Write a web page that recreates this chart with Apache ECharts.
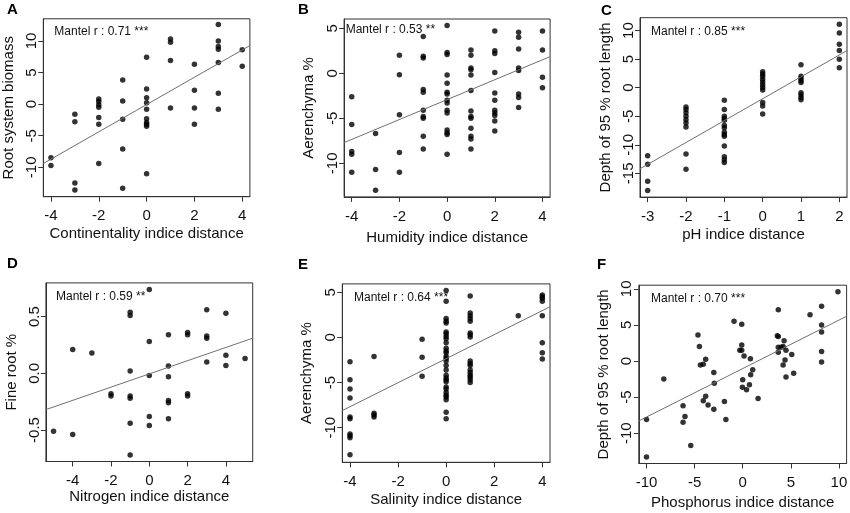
<!DOCTYPE html>
<html><head><meta charset="utf-8">
<style>html,body{margin:0;padding:0;background:#fff}#chart{width:850px;height:513px}</style>
<script src="https://cdn.jsdelivr.net/npm/echarts@6.0.0/dist/echarts.min.js"></script>
</head><body><div id="chart"></div><script>
// ---------- DATA ----------
// Panel A: continentality distance vs root system biomass
const aPts = [[-4,-8.5],[-4,-9.7],[-3,-1.6],[-3,-2.8],[-3,-12.5],[-3,-13.6],[-2,0.8],[-2,0.4],[-2,-0.1],[-2,-0.5],[-2,-2.1],[-2,-3.2],[-2,-9.4],[-1,3.8],[-1,0.5],[-1,-2.4],[-1,-7.1],[-1,-13.3],[0,7.4],[0,2.4],[0,1.0],[0,0.2],[0,-0.8],[0,-2.3],[0,-2.9],[0,-3.2],[0,-3.5],[0,-11.0],[1,10.3],[1,9.8],[1,6.9],[1,-0.6],[2,6.3],[2,2.2],[2,-0.6],[2,-3.2],[3,12.6],[3,10.0],[3,9.1],[3,8.7],[3,6.6],[3,1.7],[3,-0.8],[4,8.6],[4,6.0]];
const aLine = [[-4.32,-9.4],[4.32,9.26]];
// Panel B: humidity distance vs aerenchyma %
const bPts = [[-4,-2.6],[-4,-5.7],[-4,-8.7],[-4,-9.0],[-4,-11.0],[-3,-6.7],[-3,-10.7],[-3,-13.0],[-2,2.0],[-2,-0.15],[-2,-4.6],[-2,-8.8],[-2,-11.0],[-1,4.1],[-1,1.9],[-1,1.7],[-1,-1.8],[-1,-2.1],[-1,-4.1],[-1,-4.8],[-1,-5.0],[-1,-7.0],[-1,-8.4],[0,5.3],[0,2.3],[0,2.1],[0,-0.2],[0,-1.1],[0,-2.1],[0,-2.3],[0,-3.0],[0,-3.3],[0,-4.1],[0,-4.4],[0,-6.3],[0,-6.6],[0,-6.8],[0,-9.0],[1,2.6],[1,2.0],[1,0.6],[1,0.4],[1,-0.2],[1,-1.9],[1,-4.2],[1,-4.8],[1,-5.0],[1,-6.1],[1,-7.0],[1,-7.3],[1,-8.4],[2,4.7],[2,2.5],[2,2.2],[2,0.1],[2,-2.2],[2,-3.0],[2,-4.1],[2,-4.4],[2,-4.7],[2,-5.3],[2,-6.4],[3,4.55],[3,4.0],[3,2.7],[3,0.6],[3,0.3],[3,-2.3],[3,-2.7],[3,-3.8],[4,4.7],[4,2.6],[4,-0.45],[4,-1.6]];
const bLine = [[-4.32,-7.7],[4.32,1.85]];
// Panel C: pH distance vs depth of 95 % root length
const cPts = [[-3,-11.9],[-3,-13.4],[-3,-16.4],[-3,-18.0],[-2,-3.4],[-2,-3.8],[-2,-4.4],[-2,-5.0],[-2,-5.6],[-2,-6.2],[-2,-6.9],[-2,-11.6],[-2,-14.3],[-1,-2.2],[-1,-3.8],[-1,-5.0],[-1,-5.4],[-1,-5.7],[-1,-6.6],[-1,-7.0],[-1,-7.8],[-1,-8.2],[-1,-8.5],[-1,-10.2],[-1,-12.1],[-1,-12.6],[-1,-13.1],[0,2.8],[0,2.4],[0,2.0],[0,1.5],[0,1.0],[0,0.5],[0,0.05],[0,-0.4],[0,-2.6],[0,-3.2],[0,-4.6],[1,4.0],[1,2.0],[1,1.6],[1,1.2],[1,0.9],[1,-0.9],[1,-1.3],[1,-1.7],[1,-2.1],[2,11.1],[2,9.6],[2,7.6],[2,6.5],[2,5.0],[2,3.5]];
const cLine = [[-3.2,-14.2],[2.2,6.5]];
// Panel D: nitrogen distance vs fine root %
const dPts = [[-5,-0.51],[-4,-0.54],[-4,0.21],[-3,0.18],[-2,-0.18],[-2,-0.20],[-1,0.54],[-1,0.51],[-1,0.02],[-1,-0.20],[-1,-0.22],[-1,-0.44],[-1,-0.72],[0,0.74],[0,0.28],[0,-0.02],[0,-0.38],[0,-0.46],[1,0.34],[1,0.065],[1,-0.03],[1,-0.24],[1,-0.26],[1,-0.40],[2,0.36],[2,0.34],[2,-0.18],[2,-0.20],[3,0.56],[3,0.33],[3,0.31],[3,0.10],[4,0.53],[4,0.16],[4,0.07],[5,0.13]];
const dLine = [[-5.4,-0.32],[5.4,0.31]];
// Panel E: salinity distance vs aerenchyma %
const ePts = [[-4,-2.7],[-4,-4.7],[-4,-5.7],[-4,-6.7],[-4,-8.8],[-4,-9.0],[-4,-10.7],[-4,-10.9],[-4,-11.1],[-4,-13.0],[-3,-2.1],[-3,-8.4],[-3,-8.6],[-3,-8.8],[-1,-0.2],[-1,-2.2],[-1,-4.3],[0,5.2],[0,4.0],[0,2.1],[0,1.8],[0,1.6],[0,0.6],[0,0.4],[0,0.1],[0,-0.15],[0,-0.6],[0,-1.2],[0,-1.5],[0,-1.7],[0,-2.1],[0,-2.3],[0,-2.6],[0,-3.1],[0,-3.6],[0,-4.2],[0,-4.5],[0,-4.7],[0,-4.9],[0,-5.5],[0,-5.7],[0,-6.1],[0,-6.4],[0,-6.6],[0,-6.9],[0,-8.3],[0,-9.0],[1,4.6],[1,2.7],[1,2.4],[1,2.1],[1,1.8],[1,0.5],[1,0.3],[1,0.05],[1,-2.6],[1,-2.9],[1,-3.1],[1,-3.6],[1,-3.9],[1,-4.2],[1,-4.4],[1,-4.7],[1,-5.0],[3,2.4],[4,4.7],[4,4.5],[4,4.3],[4,4.0],[4,2.4],[4,-0.6],[4,-1.7],[4,-2.4]];
const eLine = [[-4.32,-8.1],[4.32,3.4]];
// Panel F: phosphorus distance vs depth of 95 % root length
const fPts = [[-10,-8.1],[-10,-13.3],[-8.2,-2.5],[-6.2,-6.2],[-6.2,-8.5],[-6.0,-7.7],[-5.4,-11.7],[-4.65,3.6],[-4.5,2.0],[-4.4,-0.55],[-4.1,-0.46],[-4.1,-5.5],[-3.85,0.23],[-3.85,-4.9],[-3.6,-6.1],[-3.0,-1.6],[-2.95,-3.1],[-3.0,-6.7],[-1.9,-5.6],[-1.75,-8.1],[-0.9,5.5],[-0.3,1.5],[-0.1,1.5],[-0.1,2.2],[-0.1,5.1],[-0.03,-3.65],[0.0,-2.6],[0.14,0.7],[0.4,-4.0],[0.7,-3.3],[0.8,0.3],[0.83,-1.9],[1.04,-1.2],[1.6,-5.2],[3.6,3.5],[3.7,3.4],[3.7,7.1],[3.7,1.9],[3.7,1.2],[4.0,1.9],[4.2,2.0],[4.3,2.8],[4.2,-0.55],[4.4,0.14],[4.5,1.5],[4.5,-2.2],[5.1,0.9],[5.3,-1.7],[7.0,6.4],[8.2,7.6],[8.2,4.0],[8.2,5.0],[8.2,1.3],[8.2,-0.14],[9.9,9.6]];
const fLine = [[-10.8,-8.3],[10.8,6.2]];

// tick values and labels
const xTicksA = [-4,-2,0,2,4], yTicksA = [-10,-5,0,5,10];
const xTicksB = [-4,-2,0,2,4], yTicksB = [-10,-5,0,5];
const xTicksC = [-3,-2,-1,0,1,2], yTicksC = [-15,-10,-5,0,5,10];
const xTicksD = [-4,-2,0,2,4], yTicksD = [-0.5,0,0.5];
const yLabelsD = ['-0.5','0.0','0.5'];
const xTicksE = [-4,-2,0,2,4], yTicksE = [-10,-5,0,5];
const xTicksF = [-10,-5,0,5,10], yTicksF = [-10,-5,0,5,10];

const letters = ['A','B','C','D','E','F'];
const xNames = ['Continentality indice distance','Humidity indice distance','pH indice distance','Nitrogen indice distance','Salinity indice distance','Phosphorus indice distance'];
const yNames = ['Root system biomass','Aerenchyma %','Depth of 95 % root length','Fine root %','Aerenchyma %','Depth of 95 % root length'];
const mantelTexts = ['Mantel r : 0.71 ***','Mantel r : 0.53 **','Mantel r : 0.85 ***','Mantel r : 0.59 **','Mantel r : 0.64 ***','Mantel r : 0.70 ***'];

// ---------- LAYOUT ----------
const FONT = '"Liberation Sans", Arial, Helvetica, sans-serif';
const TXT = '#111', AX = '#333';
const panels = [
  {pts:aPts, line:aLine, xr:[-4.32,4.32], yr:[-14.65,13.5], xt:xTicksA, yt:yTicksA, box:[43.3,18.8,206.6,177.9], xGap:30, yGap:27, mt:[54.3,31.3], lt:[7,10]},
  {pts:bPts, line:bLine, xr:[-4.32,4.32], yr:[-13.73,6.03], xt:xTicksB, yt:yTicksB, box:[344.1,19,206,177.9], xGap:33, yGap:28, mt:[345.7,29.7], lt:[298,10]},
  {pts:cPts, line:cLine, xr:[-3.2,2.2], yr:[-19.16,12.26], xt:xTicksC, yt:yTicksC, box:[640,17.7,207,179.4], xGap:30, yGap:27, mt:[651,31.3], lt:[601,10.5]},
  {pts:dPts, line:dLine, xr:[-5.4,5.4], yr:[-0.778,0.798], xt:xTicksD, yt:yTicksD, yl:yLabelsD, box:[45.9,282.9,206.8,178.6], xGap:28, yGap:27, mt:[56,297], lt:[7,263.5]},
  {pts:ePts, line:eLine, xr:[-4.32,4.32], yr:[-13.83,5.93], xt:xTicksE, yt:yTicksE, box:[342.3,283.9,207.7,178.4], xGap:30, yGap:28, mt:[354,297.2], lt:[298,264.5]},
  {pts:fPts, line:fLine, xr:[-10.8,10.8], yr:[-14.2,10.5], xt:xTicksF, yt:yTicksF, box:[638.8,285.2,207.8,178.3], xGap:32, yGap:27, mt:[651,298.8], lt:[597,264.5]}
];

function fmt(ticks, labels){
  return function(v){
    const k = ticks.findIndex(t => Math.abs(t - v) < 1e-9);
    if (k < 0) return '';
    return labels ? labels[k] : String(ticks[k]);
  };
}

const option = {animation:false, backgroundColor:'#fff', grid:[], xAxis:[], yAxis:[], series:[], graphic:[]};
panels.forEach((p, i) => {
  option.grid.push({left:p.box[0], top:p.box[1], width:p.box[2], height:p.box[3], show:true,
    borderColor:AX, borderWidth:1, backgroundColor:'transparent', containLabel:false, outerBoundsMode:'none'});
  option.xAxis.push({type:'value', gridIndex:i, min:p.xr[0], max:p.xr[1],
    name:xNames[i], nameLocation:'middle', nameGap:p.xGap,
    nameTextStyle:{fontSize:15, color:TXT, fontFamily:FONT},
    axisLine:{show:true, onZero:false, lineStyle:{color:AX, width:1}},
    axisTick:{show:true, inside:false, length:5, customValues:p.xt, lineStyle:{color:AX, width:1}},
    axisLabel:{show:true, margin:12, customValues:p.xt, fontSize:15, color:TXT, fontFamily:FONT, formatter:fmt(p.xt)},
    splitLine:{show:false}});
  option.yAxis.push({type:'value', gridIndex:i, min:p.yr[0], max:p.yr[1],
    name:yNames[i], nameLocation:'middle', nameGap:p.yGap,
    nameTextStyle:{fontSize:15, color:TXT, fontFamily:FONT},
    axisLine:{show:true, onZero:false, lineStyle:{color:AX, width:1}},
    axisTick:{show:true, inside:false, length:5, customValues:p.yt, lineStyle:{color:AX, width:1}},
    axisLabel:{show:true, margin:4, rotate:90, customValues:p.yt, fontSize:15, color:TXT, fontFamily:FONT, formatter:fmt(p.yt, p.yl)},
    splitLine:{show:false}});
  option.series.push({type:'scatter', xAxisIndex:i, yAxisIndex:i, data:p.pts, symbol:'circle', symbolSize:5.5,
    itemStyle:{color:'#000'}, silent:true});
  option.series.push({type:'line', xAxisIndex:i, yAxisIndex:i, data:p.line, symbol:'none', clip:true,
    lineStyle:{color:'#707070', width:1}, silent:true});
  option.graphic.push({type:'text', x:p.mt[0], y:p.mt[1], silent:true,
    style:{text:mantelTexts[i], fontSize:12, fontFamily:FONT, fill:TXT, align:'left', verticalAlign:'middle'}});
  option.graphic.push({type:'text', x:p.lt[0], y:p.lt[1], silent:true,
    style:{text:letters[i], fontSize:15, fontWeight:'bold', fontFamily:FONT, fill:'#000', align:'left', verticalAlign:'middle'}});
});

const chart = echarts.init(document.getElementById('chart'), null, {renderer:'canvas'});
chart.setOption(option);
</script></body></html>
